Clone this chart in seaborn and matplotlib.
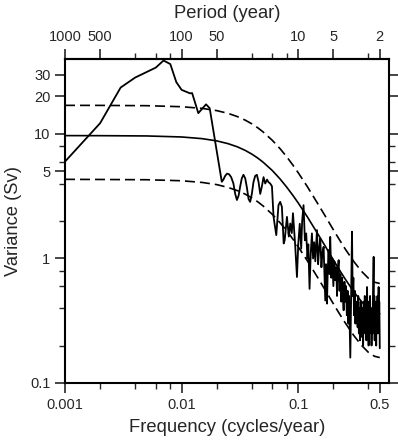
import matplotlib
matplotlib.use("Agg")
import matplotlib.pyplot as plt
from matplotlib.ticker import NullFormatter
import seaborn as sns
import pandas as pd
import numpy as np

# Spectrum (frequency in cycles/year, variance in Sv)
spec_freq = [0.001, 0.002, 0.003, 0.004, 0.006, 0.007, 0.008, 0.009, 0.010, 0.0118,
             0.0123, 0.0139, 0.0162, 0.0174, 0.0221, 0.0228, 0.0236, 0.0245, 0.0255, 0.0266,
             0.0278, 0.0288, 0.0298, 0.0308, 0.0318, 0.0328, 0.0339, 0.0351, 0.0363, 0.0375,
             0.0387, 0.0400, 0.0413, 0.0427, 0.0442, 0.0457, 0.0472, 0.0488, 0.0504, 0.0521,
             0.0540, 0.0556, 0.0575, 0.0595, 0.0614, 0.0648, 0.0677, 0.0700, 0.0724, 0.0750,
             0.0765, 0.0800, 0.0830, 0.0854, 0.0880, 0.0901, 0.0940, 0.0975,
             0.100, 0.103, 0.106, 0.108, 0.111, 0.114, 0.117, 0.120, 0.122, 0.125,
             0.128, 0.131, 0.134, 0.137, 0.140, 0.1447, 0.148, 0.151, 0.1545, 0.158,
             0.161, 0.165, 0.168, 0.1705, 0.173, 0.1764, 0.179, 0.182, 0.185, 0.188,
             0.192, 0.196, 0.200, 0.204, 0.208, 0.212, 0.215, 0.218, 0.222, 0.226,
             0.230, 0.234, 0.238, 0.241, 0.245, 0.249, 0.253, 0.257, 0.261, 0.265,
             0.269, 0.273, 0.2795, 0.284, 0.289, 0.293, 0.297, 0.301, 0.305, 0.309,
             0.314, 0.319, 0.323, 0.327, 0.331, 0.335, 0.339, 0.343, 0.348, 0.352,
             0.356, 0.360, 0.364, 0.368, 0.372, 0.376, 0.380, 0.384, 0.389, 0.393,
             0.397, 0.401, 0.405, 0.409, 0.413, 0.417, 0.421, 0.425, 0.429, 0.433,
             0.437, 0.443, 0.446, 0.449, 0.452, 0.455, 0.458, 0.462, 0.466, 0.470,
             0.474, 0.478, 0.482, 0.486, 0.489, 0.492, 0.495, 0.498, 0.500]
spec_var = [6.0, 12.2, 23.6, 28.4, 34.1, 38.9, 36.4, 26.1, 22.6, 21.2,
            21.3, 14.7, 17.3, 16.1, 4.13, 4.3, 4.6, 4.8, 4.75, 4.5,
            4.0, 3.3, 2.95, 3.2, 3.8, 4.4, 4.7, 4.4, 3.7, 3.0,
            2.85, 3.3, 4.1, 4.6, 4.7, 4.1, 3.3, 3.8, 4.5, 4.0,
            4.3, 4.1, 4.0, 3.8, 2.16, 1.54, 2.68, 2.85, 2.6, 1.32,
            1.4, 2.16, 1.5, 1.91, 1.6, 2.31, 1.3, 0.71,
            1.3, 1.9, 1.2, 2.0, 2.68, 1.4, 1.59, 1.0, 1.3, 0.57,
            1.1, 1.59, 1.0, 1.35, 0.95, 1.69, 0.9, 1.2, 1.45, 0.85,
            1.1, 1.24, 0.7, 0.46, 0.9, 0.434, 0.8, 1.17, 0.75, 1.49,
            0.7, 1.0, 0.6, 0.95, 0.669, 0.85, 0.5, 0.8, 0.969, 0.55,
            0.75, 0.45, 0.7, 0.5, 0.384, 0.65, 0.45, 0.6, 0.35, 0.55,
            0.3, 0.5, 0.16, 0.5, 1.64, 0.5, 0.7, 0.35, 0.55, 0.3,
            0.45, 0.36, 0.28, 0.5, 0.25, 0.4, 0.22, 0.45, 0.3, 0.234,
            0.4, 0.2, 0.45, 0.28, 0.5, 0.25, 0.4, 0.22, 0.59, 0.3,
            0.45, 0.2, 0.35, 0.25, 0.5, 0.28, 0.4, 0.2, 0.35, 0.25,
            0.45, 1.03, 0.3, 0.5, 0.22, 0.4, 0.28, 0.45, 0.2, 0.4,
            0.3, 0.5, 0.25, 0.45, 0.59, 0.3, 0.45, 0.3, 0.19]

# Red-noise fit and its confidence bounds, read at sample frequencies
fit_freq = [0.001, 0.002, 0.005, 0.01, 0.015, 0.02, 0.025, 0.03, 0.035, 0.04,
            0.045, 0.05, 0.06, 0.07, 0.08, 0.09, 0.1, 0.12, 0.15, 0.17,
            0.2, 0.225, 0.25, 0.3, 0.35, 0.4, 0.45, 0.5]
fit_mid = [9.70, 9.69, 9.64, 9.46, 9.17, 8.80, 8.36, 7.89, 7.39, 6.89,
           6.40, 5.93, 5.08, 4.34, 3.72, 3.21, 2.79, 2.15, 1.53, 1.26,
           0.973, 0.812, 0.694, 0.539, 0.449, 0.396, 0.369, 0.360]
fit_upper = [16.97, 16.96, 16.87, 16.55, 16.05, 15.40, 14.64, 13.80, 12.93, 12.06,
             11.20, 10.38, 8.88, 7.60, 6.52, 5.62, 4.88, 3.76, 2.67, 2.20,
             1.70, 1.42, 1.21, 0.943, 0.786, 0.693, 0.645, 0.630]
fit_lower = [4.32, 4.31, 4.29, 4.21, 4.08, 3.92, 3.72, 3.51, 3.29, 3.07,
             2.85, 2.64, 2.26, 1.93, 1.66, 1.43, 1.24, 0.955, 0.680, 0.559,
             0.433, 0.361, 0.309, 0.240, 0.200, 0.176, 0.164, 0.160]

# Axis ticks
x_major = [0.001, 0.01, 0.1, 0.5]
x_major_labels = ["0.001", "0.01", "0.1", "0.5"]
x_minor = [0.002, 0.004, 0.006, 0.008, 0.02, 0.04, 0.06, 0.08, 0.2, 0.4]
top_major = [0.001, 0.002, 0.01, 0.02, 0.1, 0.2, 0.5]
top_labels = ["1000", "500", "100", "50", "10", "5", "2"]
top_minor = [0.004, 0.006, 0.008, 0.04, 0.06, 0.08, 0.4]
y_major = [0.1, 1, 5, 10, 20, 30]
y_major_labels = ["0.1", "1", "5", "10", "20", "30"]
y_minor = [0.2, 0.4, 0.6, 0.8, 2, 4, 6, 8]

sns.set_style("white")
plt.rcParams['font.family'] = ['Liberation Sans', 'DejaVu Sans']

spec = pd.DataFrame({'freq': spec_freq, 'var': spec_var})
fit = pd.DataFrame({'freq': fit_freq, 'mid': fit_mid, 'upper': fit_upper, 'lower': fit_lower})

fig = plt.figure(figsize=(3.98, 4.42), dpi=100)
ax = fig.add_axes([65 / 398, 59 / 442, 324 / 398, 324 / 442])

sns.lineplot(data=spec, x='freq', y='var', ax=ax, color='black', lw=1.3,
             estimator=None, sort=False)
sns.lineplot(data=fit, x='freq', y='mid', ax=ax, color='black', lw=1.2)
sns.lineplot(data=fit, x='freq', y='upper', ax=ax, color='black', lw=1.2,
             dashes=False, linestyle=(0, (6, 3)))
sns.lineplot(data=fit, x='freq', y='lower', ax=ax, color='black', lw=1.2,
             dashes=False, linestyle=(0, (6, 3)))

ax.set_xscale('log')
ax.set_yscale('log')
ax.set_xlim(0.001, 0.6)
ax.set_ylim(0.1, 40)

ax.set_xticks(x_major, labels=x_major_labels)
ax.set_xticks(x_minor, minor=True)
ax.set_yticks(y_major, labels=y_major_labels)
ax.set_yticks(y_minor, minor=True)
ax.xaxis.set_minor_formatter(NullFormatter())
ax.yaxis.set_minor_formatter(NullFormatter())
ax.tick_params(which='major', direction='out', length=7, width=1.2, labelsize=10.5,
               left=True, right=True, bottom=True)
ax.tick_params(which='minor', direction='out', length=4, width=1.0,
               left=True, right=True, bottom=True)

sec = ax.secondary_xaxis('top')
sec.set_xticks(top_major, labels=top_labels)
sec.set_xticks(top_minor, minor=True)
sec.xaxis.set_minor_formatter(NullFormatter())
sec.tick_params(which='major', direction='out', length=7, width=1.2, labelsize=10.5)
sec.tick_params(which='minor', direction='out', length=4, width=1.0)
sec.set_xlabel("Period (year)", fontsize=13.2, labelpad=9)
sec.spines['top'].set_linewidth(1.5)

for s in ax.spines.values():
    s.set_linewidth(1.5)
    s.set_color('black')

ax.set_xlabel("Frequency (cycles/year)", fontsize=13.2, labelpad=5)
ax.set_ylabel("Variance (Sv)", fontsize=13.2, labelpad=6)

fig.savefig("out.png", dpi=100)
